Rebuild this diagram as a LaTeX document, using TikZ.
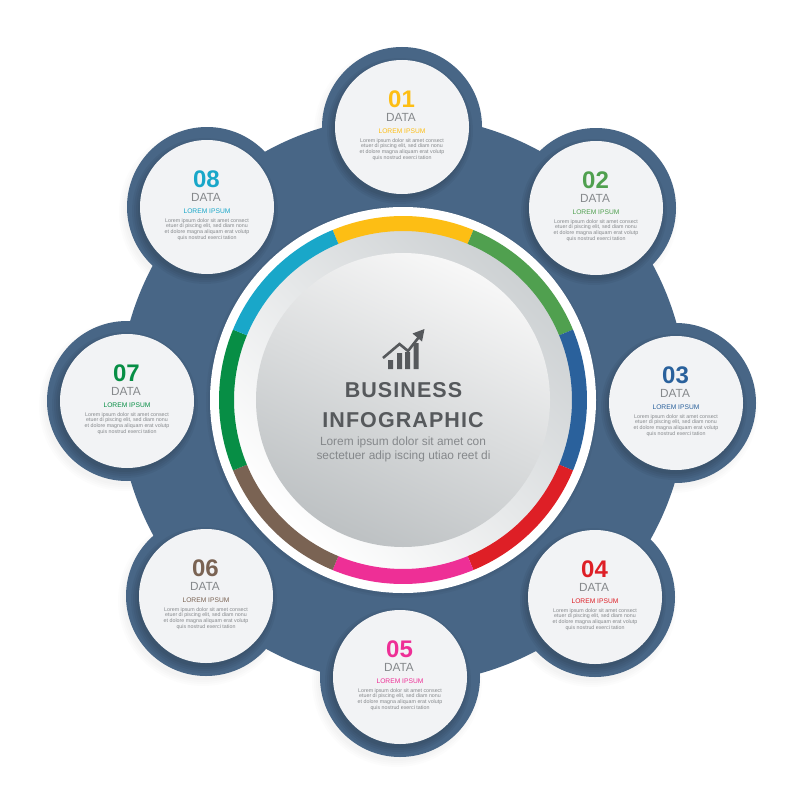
\documentclass[tikz,border=0pt]{standalone}
\usepackage{fontspec}
\setmainfont{Liberation Sans}
\definecolor{navy}{HTML}{486686}
\definecolor{cardfill}{HTML}{F2F3F5}
\definecolor{c1}{HTML}{FDBE14}
\definecolor{c2}{HTML}{50A04F}
\definecolor{c3}{HTML}{2A619C}
\definecolor{c4}{HTML}{DE1F26}
\definecolor{c5}{HTML}{EE2F96}
\definecolor{c6}{HTML}{7A6353}
\definecolor{c7}{HTML}{078E45}
\definecolor{c8}{HTML}{19A7C9}
\definecolor{ink}{HTML}{56595C}
\definecolor{soft}{HTML}{85888B}
\definecolor{ringgrey}{HTML}{CDD1D3}
\definecolor{discgrey}{HTML}{BDC1C3}
\tikzset{
  numtxt/.style={font=\fontsize{24}{24}\selectfont\bfseries,inner sep=0pt,anchor=center},
  datatxt/.style={font=\fontsize{11.8}{12}\selectfont,text=soft,inner sep=0pt,anchor=center},
  headtxt/.style={font=\fontsize{6.7}{7}\selectfont,inner sep=0pt,anchor=center},
  bodytxt/.style={font=\fontsize{5.3}{5.9}\selectfont,text=soft,inner sep=0pt,anchor=north,align=center},
  titletxt/.style={font=\fontsize{21.5}{22}\selectfont\bfseries\addfontfeature{LetterSpace=5},text=ink,inner sep=0pt,anchor=center},
  subtxt/.style={font=\fontsize{11.9}{12}\selectfont,text=soft,inner sep=0pt,anchor=center},
}
\begin{document}
\begin{tikzpicture}[x=1pt,y=-1pt]
\useasboundingbox (0,0) rectangle (800,800);
\fill[white] (0,0) rectangle (800,800);
% soft shadow of the dark shape
\foreach \cx/\cy in {402/127,596/208,676/403,595/597,400/677,206/596,127/401,207/207}{
  \foreach \r in {85,83,81,79}{\fill[black,opacity=.012] (\cx-3,\cy+5) circle[radius=\r];}
}
% dark body
\fill[navy] (403,400) circle[radius=284];
\foreach \cx/\cy in {402/127,596/208,676/403,595/597,400/677,206/596,127/401,207/207}{
  \fill[navy] (\cx,\cy) circle[radius=80];
}
% white cards
\foreach \cx/\cy/\col/\num/\i in {402/127/c1/01/1,596/208/c2/02/2,676/403/c3/03/3,595/597/c4/04/4,400/677/c5/05/5,206/596/c6/06/6,127/401/c7/07/7,207/207/c8/08/8}{
  \foreach \r in {73,71,69,67}{\fill[black,opacity=.045] (\cx-2,\cy+4) circle[radius=\r];}
  \fill[cardfill] (\cx,\cy) circle[radius=67];
  \node[numtxt,text=\col] (num\i) at (\cx-0.5,\cy-28) {\num};
  \node[datatxt] (data\i) at (\cx-1,\cy-9.5) {DATA};
  \node[headtxt,text=\col] (head\i) at (\cx,\cy+4.5) {LOREM IPSUM};
  \node[bodytxt] (body\i) at (\cx,\cy+11) {Lorem ipsum dolor sit amet consect\\etuer di piscing elit, sed diam nonu\\et dolore magna aliquam erat volutp\\quis nostrud exerci tation};
}
% central disc
\foreach \r in {196,194}{\fill[black,opacity=.03] (402,402) circle[radius=\r];}
\fill[white] (403,400) circle[radius=193];
\shade[left color=white,right color=ringgrey,shading angle=135] (403,400) circle[radius=172];
\foreach \a/\col in {90/c1,45/c2,0/c3,-45/c4,-90/c5,-135/c6,180/c7,135/c8}{
  \fill[\col] ({403+184*cos(\a-22.5)},{400-184*sin(\a-22.5)})
     arc[start angle={-(\a-22.5)},end angle={-(\a+22.5)},radius=184]
     -- ({403+169*cos(\a+22.5)},{400-169*sin(\a+22.5)})
     arc[start angle={-(\a+22.5)},end angle={-(\a-22.5)},radius=169] -- cycle;
}
\shade[left color=discgrey,right color=white!97!black,shading angle=155] (403,400) circle[radius=147];
% icon
\fill[ink] (388,360) rectangle (393,369) (397,353) rectangle (402,369) (405,352) rectangle (410,369) (413.5,343) rectangle (418.5,369);
\draw[ink,line width=2.6pt] (383,358) -- (399.5,344) -- (408,351) -- (419,337);
\fill[ink] (424.5,329) -- (412.5,333.5) -- (422,341.5) -- cycle;
\node[titletxt] (t1) at (403.5,390.5) {BUSINESS};
\node[titletxt] (t2) at (403,420) {INFOGRAPHIC};
\node[subtxt] (s1) at (403,442.5) {Lorem ipsum dolor sit amet con};
\node[subtxt] (s2) at (403.5,456.5) {sectetuer adip iscing utiao reet di};
\end{tikzpicture}
\end{document}
